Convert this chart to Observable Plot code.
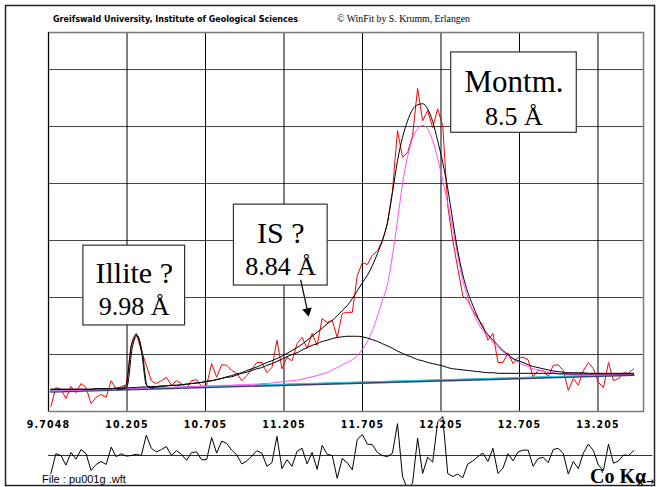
<!DOCTYPE html>
<html><head><meta charset="utf-8">
<script src="https://cdn.jsdelivr.net/npm/d3@7"></script>
<script src="https://cdn.jsdelivr.net/npm/@observablehq/plot@0.6"></script>
<style>
html,body{margin:0;padding:0;background:#fff;}
#chart{position:relative;width:657px;height:487px;overflow:hidden;background:#fff;}
#chart > svg{position:absolute;left:0;}
</style></head><body><div id="chart"></div>
<script>
// ---- scan (2-theta, degrees) ----
const scanStart = 9.72, scanStep = 0.032;
// observed counts
const observed = [
  9, 42, 39, 23, 44, 33, 49, 42, 14, 25,
  30, 25, 54, 39, 44, 46, 116, 137, 107, 81,
  54, 49, 54, 60, 46, 54, 49, 40, 54, 56,
  44, 46, 84, 60, 82, 81, 72, 67, 54, 63,
  74, 86, 86, 68, 77, 125, 75, 95, 89, 119,
  130, 111, 137, 116, 163, 156, 160, 130, 172, 174,
  174, 239, 261, 258, 274, 282, 300, 330, 388, 493,
  446, 454, 484, 567, 510, 528, 498, 531, 502, 361,
  300, 251, 203, 195, 177, 163, 151, 125, 137, 86,
  86, 103, 84, 95, 95, 91, 61, 72, 72, 61,
  81, 82, 72, 37, 58, 46, 72, 86, 75, 51,
  42, 86, 54, 58, 68, 67, 75];
// total fitted profile
const fitTotal = [
  39, 39, 39, 39, 39, 39, 39, 39, 39, 40,
  40, 40, 40, 41, 41, 47, 116, 135, 107, 47,
  42, 43, 44, 45, 46, 46, 47, 48, 49, 50,
  51, 53, 54, 56, 58, 61, 63, 66, 68, 72,
  75, 78, 82, 86, 89, 93, 97, 102, 107, 112,
  118, 125, 132, 139, 146, 154, 160, 168, 177, 186,
  198, 212, 226, 239, 256, 277, 300, 332, 384, 440,
  481, 510, 530, 538, 540, 531, 509, 475, 437, 391,
  335, 282, 240, 209, 186, 165, 147, 135, 125, 116,
  107, 100, 93, 89, 86, 82, 79, 77, 75, 73,
  71, 70, 69, 68, 68, 68, 68, 67, 67, 67,
  67, 67, 67, 67, 67, 67, 67];
// IS peak + background
const fitIS = [
  39, 39, 39, 39, 39, 39, 39, 39, 39, 40,
  40, 40, 40, 41, 41, 41, 42, 42, 43, 43,
  44, 44, 45, 45, 46, 46, 47, 48, 49, 50,
  51, 53, 54, 56, 58, 60, 61, 64, 67, 69,
  72, 75, 77, 81, 84, 88, 92, 96, 100, 103,
  108, 112, 116, 119, 123, 125, 128, 130, 131, 132,
  132, 132, 131, 129, 126, 123, 119, 115, 111, 106,
  102, 98, 95, 91, 89, 86, 84, 82, 80, 77,
  75, 74, 73, 72, 71, 70, 69, 68, 68, 67,
  67, 67, 67, 67, 67, 67, 67, 67, 67, 67,
  67, 66, 66, 66, 66, 66, 66, 66, 66, 66,
  66, 66, 66, 66, 66, 66, 66];
// Montmorillonite peak + background
const fitMontm = [
  36, 36, 36, 37, 37, 37, 37, 38, 38, 38,
  38, 39, 39, 39, 40, 40, 40, 40, 41, 41,
  41, 42, 42, 42, 42, 43, 43, 43, 44, 44,
  44, 45, 45, 45, 46, 46, 46, 47, 47, 47,
  48, 48, 49, 49, 50, 51, 52, 53, 54, 55,
  57, 59, 61, 63, 66, 68, 73, 77, 82, 86,
  91, 98, 109, 123, 142, 167, 195, 223, 274, 335,
  400, 447, 479, 496, 502, 496, 475, 444, 405, 365,
  321, 274, 230, 200, 175, 156, 142, 132, 121, 112,
  105, 98, 92, 87, 82, 79, 75, 73, 71, 69,
  68, 67, 66, 65, 65, 65, 65, 65, 65, 65,
  65, 65, 65, 65, 65, 65, 65];
// Illite peak + background (only near the peak)
const illiteX = [10.136, 10.168, 10.200, 10.232, 10.264, 10.296, 10.328, 10.360];
const illiteY = [39, 40, 45, 112, 133, 103, 44, 41];
// background
const bgX = [9.72, 13.432];
const bgY = [35, 64];

// axis
const tickValues = [9.7048, 10.205, 10.705, 11.205, 11.705, 12.205, 12.705, 13.205];
const tickLabels = ["9.7048", "10.205", "10.705", "11.205", "11.705", "12.205", "12.705", "13.205"];
const gridY = [100, 200, 300, 400, 500, 600];
const xDomain = [9.7048, 13.495];
const yDomain = [0, 665];

// peak labels (anchored in data units)
const peakNames = ["Illite ?", "IS ?", "Montm."];
const peakD = ["9.98 Å", "8.84 Å", "8.5 Å"];
const boxX1 = [9.927, 10.886, 12.270];
const boxX2 = [10.575, 11.483, 13.070];
const boxY1 = [151, 221, 489];
const boxY2 = [291, 363, 630];
const labelX = [10.251, 11.184, 12.670];
const nameY = [226, 296, 560];
const dY = [170, 240, 503];
const nameSize = [30, 30, 31];
const arrowFrom = [11.311, 231];
const arrowHead = [11.355, 176];

// ---- derived tables ----
const scanX = observed.map((_, i) => scanStart + i * scanStep);
const obsData = observed.map((v, i) => ({x: scanX[i], y: v}));
const totData = fitTotal.map((v, i) => ({x: scanX[i], y: v}));
const isData = fitIS.map((v, i) => ({x: scanX[i], y: v}));
const mData = fitMontm.map((v, i) => ({x: scanX[i], y: v}));
const illData = illiteY.map((v, i) => ({x: illiteX[i], y: v}));
const bgData = bgY.map((v, i) => ({x: bgX[i], y: v}));
const resid = observed.map((v, i) => ({x: scanX[i], y: v - fitTotal[i]}));
const labelMap = new Map(tickValues.map((t, i) => [t, tickLabels[i]]));
const idx = peakNames.map((_, i) => i);

const serif = "Liberation Serif, Times New Roman, serif";
const narrow = "Liberation Sans Narrow, DejaVu Sans Condensed, Liberation Sans, sans-serif";

const main = Plot.plot({
  width: 657, height: 487,
  marginLeft: 48, marginRight: 14, marginTop: 32, marginBottom: 76,
  style: {background: "transparent", overflow: "visible"},
  x: {domain: xDomain, axis: null},
  y: {domain: yDomain, axis: null},
  marks: [
    Plot.ruleY(gridY, {stroke: "#444", strokeWidth: 1}),
    Plot.ruleX(tickValues.slice(1), {stroke: "#000", strokeWidth: 1}),
    Plot.frame({stroke: "#7a7a7a", strokeWidth: 1.5}),
    Plot.ruleX(tickValues.slice(0, 1), {stroke: "#000", strokeWidth: 1}),
    Plot.axisX({ticks: tickValues, tickFormat: d => labelMap.get(d), tickSize: 6, tickPadding: 3,
      fontSize: 10.5, fontWeight: "bold", fontFamily: narrow, stroke: null}),
    Plot.line(obsData, {x: "x", y: "y", stroke: "#ff0000", strokeWidth: 1}),
    Plot.line(bgData, {x: "x", y: "y", stroke: "#3c3c68", strokeWidth: 2.2}),
    Plot.line(bgData, {x: "x", y: "y", dy: -0.8, stroke: "#1fd2e6", strokeWidth: 1.1}),
    Plot.line(mData, {x: "x", y: "y", stroke: "#ff4cff", strokeWidth: 1, curve: "monotone-x"}),
    Plot.line(isData, {x: "x", y: "y", stroke: "#000", strokeWidth: 1, curve: "monotone-x"}),
    Plot.line(illData, {x: "x", y: "y", dx: 1, stroke: "#000", strokeWidth: 1, curve: "monotone-x"}),
    Plot.line(totData, {x: "x", y: "y", stroke: "#000", strokeWidth: 1, curve: "monotone-x"}),
    Plot.rect(idx, {x1: i => boxX1[i], x2: i => boxX2[i], y1: i => boxY1[i], y2: i => boxY2[i],
      fill: "#fff", stroke: "#333", strokeWidth: 1.2}),
    Plot.text(idx, {x: i => labelX[i], y: i => nameY[i], text: i => peakNames[i], fontSize: i => nameSize[i],
      fontFamily: serif, lineAnchor: "bottom", textAnchor: "middle", fill: "#000"}),
    Plot.text(idx, {x: i => labelX[i], y: i => dY[i], text: i => peakD[i], fontSize: 26,
      fontFamily: serif, lineAnchor: "bottom", textAnchor: "middle", fill: "#000"}),
    Plot.link([0], {x1: [arrowFrom[0]], y1: [arrowFrom[1]], x2: [arrowHead[0]], y2: [arrowHead[1]], stroke: "#000", strokeWidth: 1.2}),
    Plot.dot([0], {x: [arrowHead[0]], y: [arrowHead[1]], symbol: "triangle", r: 3.6, fill: "#000", stroke: null, rotate: 168})
  ]
});

const residPlot = Plot.plot({
  width: 657, height: 78,
  marginLeft: 48, marginRight: 14, marginTop: 0, marginBottom: 0,
  style: {background: "transparent", overflow: "visible"},
  x: {domain: xDomain, axis: null},
  y: {domain: [-50, 80], axis: null},
  marks: [
    Plot.ruleY([0], {x1: 9.7048, x2: 13.555, stroke: "#333", strokeWidth: 1}),
    Plot.line(resid, {x: "x", y: "y", stroke: "#000", strokeWidth: 1, clip: true})
  ]
});

const chart = document.getElementById("chart");
main.style.top = "0px";
chart.appendChild(main);
residPlot.style.top = "407px";
chart.appendChild(residPlot);

d3.select(main).selectAll("[aria-label='x-axis tick label'] text").style("letter-spacing", "1.2px");

// decorations: border, header and footer texts
const deco = d3.create("svg").attr("width", 657).attr("height", 487).style("top", "0px")
  .style("position", "absolute").style("left", "0px").style("overflow", "visible");
chart.appendChild(deco.node());
deco.append("rect").attr("x", 5.5).attr("y", 5.5).attr("width", 649).attr("height", 480)
  .attr("fill", "none").attr("stroke", "#222").attr("stroke-width", 1.5);
deco.append("text").attr("x", 53).attr("y", 22).attr("font-family", narrow).attr("font-weight", "bold")
  .attr("font-size", 9.5).attr("textLength", 245).attr("lengthAdjust", "spacingAndGlyphs")
  .text("Greifswald University, Institute of Geological Sciences");
deco.append("text").attr("x", 337).attr("y", 22).attr("font-family", serif)
  .attr("font-size", 10).attr("textLength", 133).attr("lengthAdjust", "spacingAndGlyphs")
  .text("© WinFit by S. Krumm, Erlangen");
deco.append("text").attr("x", 42).attr("y", 483).attr("font-family", "Liberation Sans, Arial, sans-serif")
  .attr("font-size", 11).text("File : pu001g .wft");
deco.append("text").attr("x", 590).attr("y", 483).attr("font-family", serif).attr("font-size", 20)
  .attr("font-weight", "bold").text("Co Kα");
</script></body></html>
